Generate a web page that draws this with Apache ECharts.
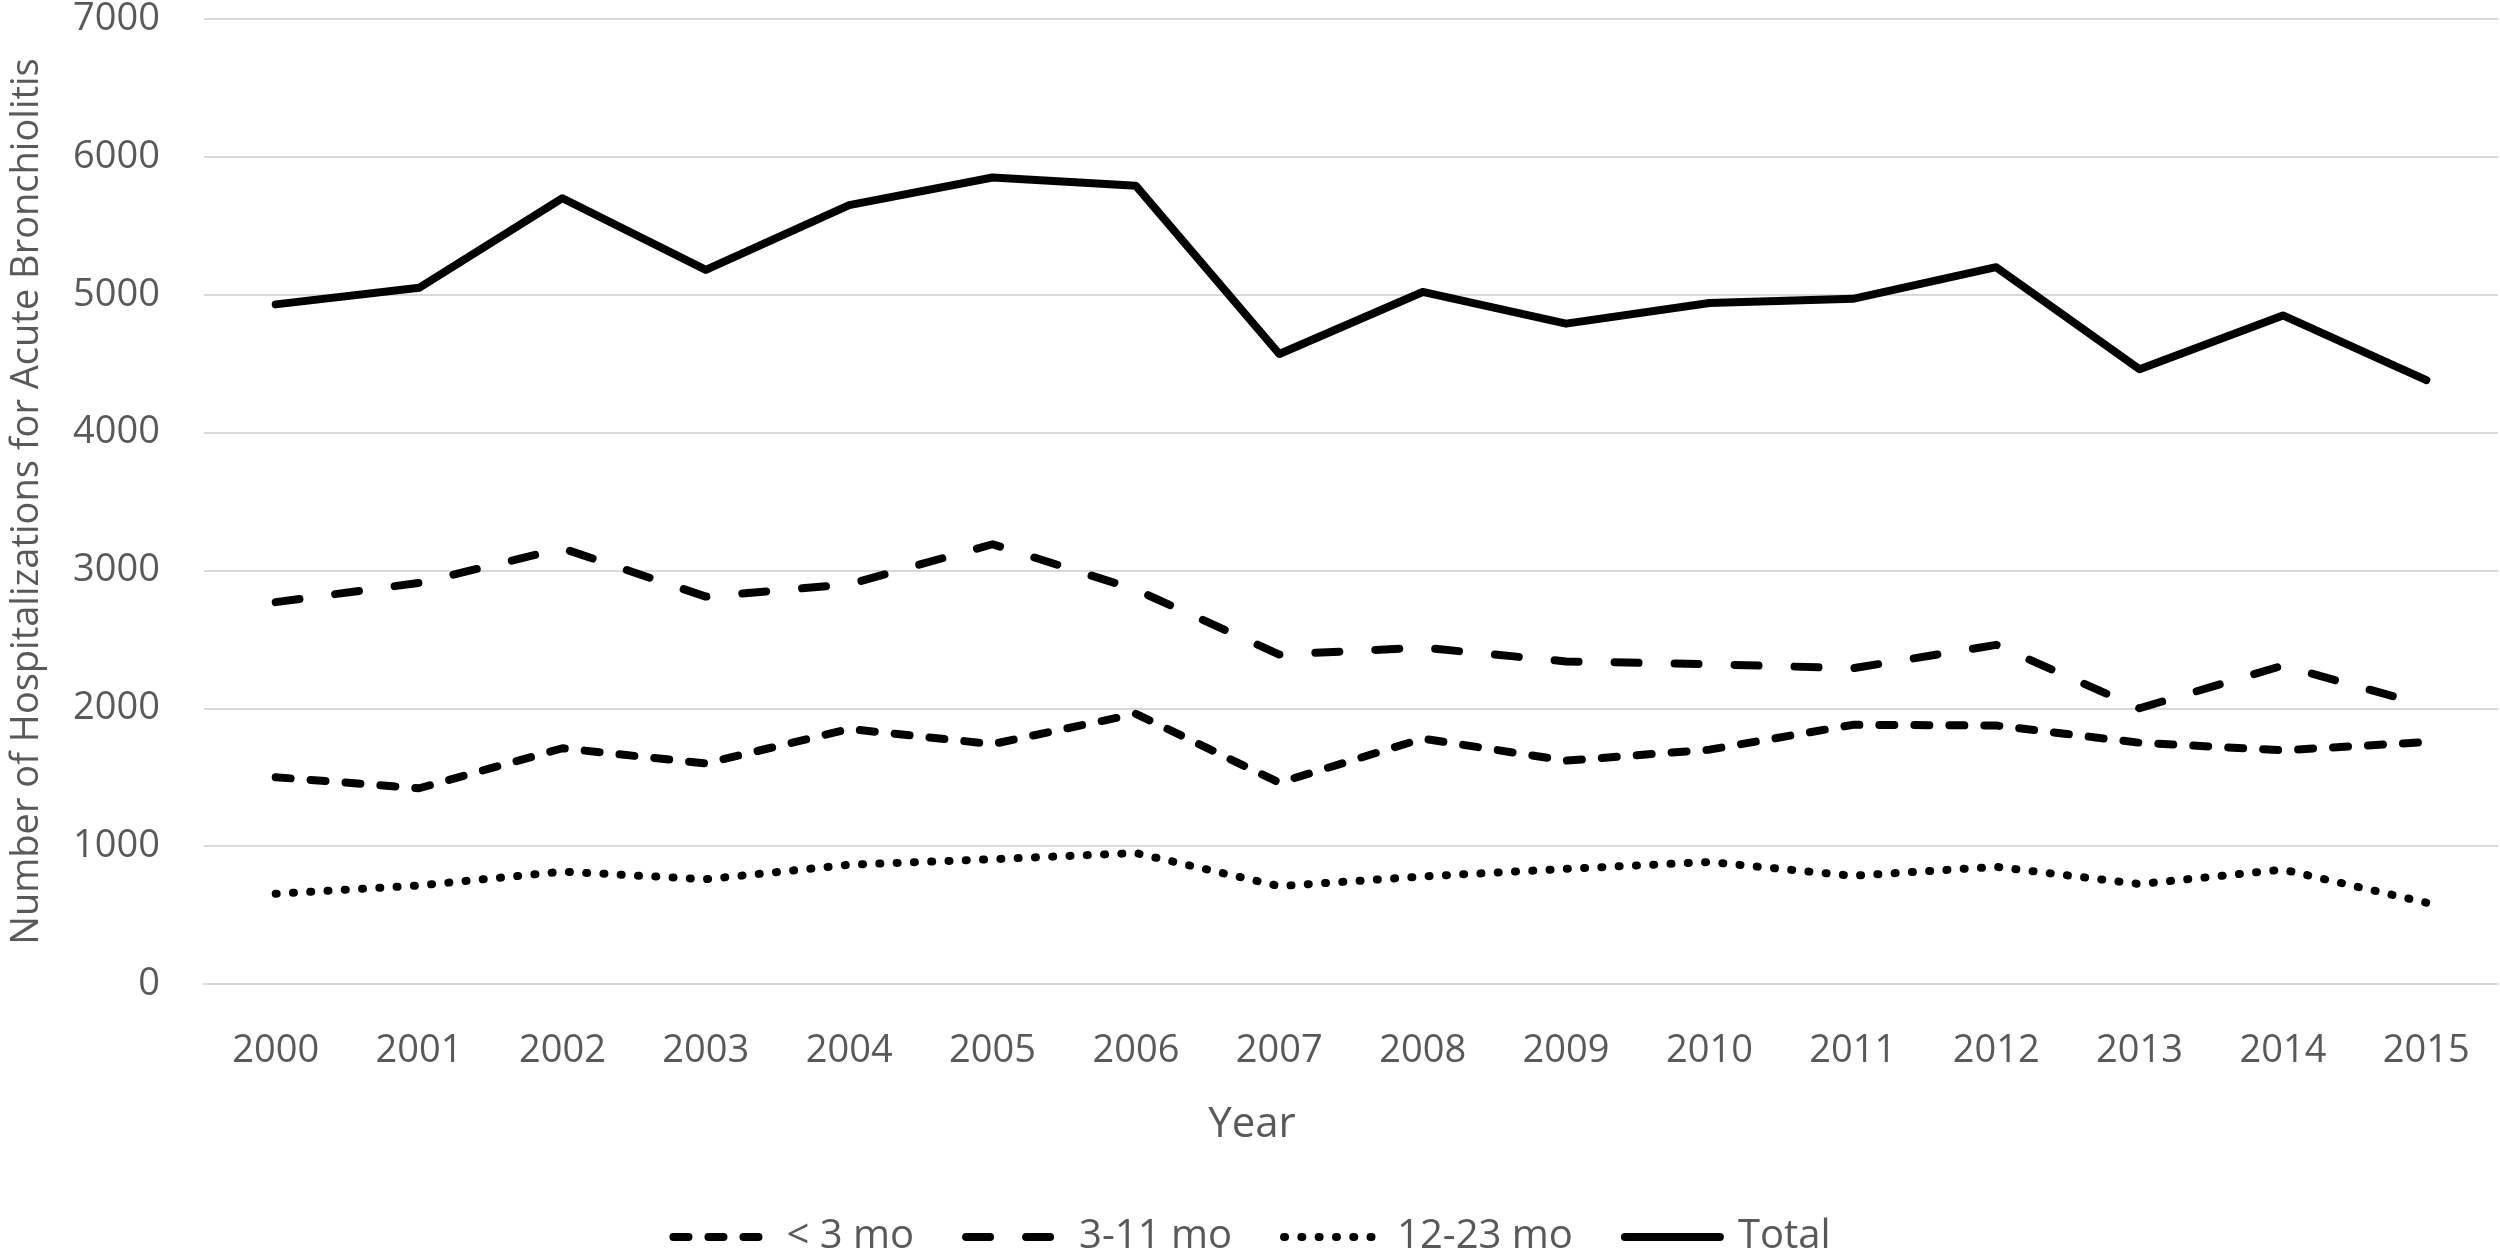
<!DOCTYPE html>
<html>
<head>
<meta charset="utf-8">
<script src="https://cdn.jsdelivr.net/npm/echarts@6/dist/echarts.min.js"></script>
<style>
html,body{margin:0;padding:0;background:#fff;}
#chart{width:2500px;height:1248px;}
</style>
</head>
<body>
<div id="chart"></div>
<script>
var years = ['2000','2001','2002','2003','2004','2005','2006','2007','2008','2009','2010','2011','2012','2013','2014','2015'];
var under3 = [1500,1420,1710,1600,1850,1740,1960,1460,1780,1620,1700,1880,1875,1750,1695,1755];
var m3to11 = [2770,2910,3160,2810,2900,3190,2860,2390,2440,2340,2320,2290,2460,2000,2310,2020];
var m12to23 = [655,715,815,760,865,905,950,710,780,835,885,785,850,725,830,590];
var total = [4930,5050,5700,5180,5650,5850,5790,4570,5020,4790,4940,4970,5200,4460,4850,4380];
var yTicks = {min:0, max:7000, interval:1000};

var FONT = 'Open Sans';
var TXT = '#595959';
var chart = echarts.init(document.getElementById('chart'));

function mk(name, data, dash){
  return {
    name: name, type: 'line', data: data, symbol: 'none', smooth: false,
    lineStyle: {color:'#000', width: 8, type: dash, cap: 'round', join: 'round'},
    itemStyle: {color:'#000'},
    emphasis: {disabled: true}
  };
}

chart.setOption({
  animation: false,
  backgroundColor: '#fff',
  textStyle: {fontFamily: FONT},
  grid: {left: 191, right: 2, top: 18, bottom: 264, containLabel: false},
  legend: {
    data: ['< 3 mo','3-11 mo','12-23 mo','Total'],
    left: 'center', top: 1212, itemWidth: 95, itemHeight: 40, itemGap: 48,
    itemStyle: {opacity: 0},
    lineStyle: {width: 8, cap: 'round'},
    textStyle: {fontFamily: FONT, fontSize: 40, color: TXT, padding: [0,0,0,13]}
  },
  xAxis: {
    type: 'category', data: years, boundaryGap: true,
    axisTick: {show: false},
    axisLine: {lineStyle: {color: '#d9d9d9', width: 2}},
    axisLabel: {fontFamily: FONT, fontSize: 38, color: TXT, margin: 48},
    name: 'Year', nameLocation: 'middle', nameGap: 120,
    nameTextStyle: {fontFamily: FONT, fontSize: 42, color: TXT, padding: [0, 198, 0, 0]}
  },
  yAxis: {
    type: 'value', min: yTicks.min, max: yTicks.max, interval: yTicks.interval,
    axisLine: {show: false}, axisTick: {show: false},
    splitLine: {lineStyle: {color: '#d9d9d9', width: 2}},
    axisLabel: {fontFamily: FONT, fontSize: 38, color: TXT, margin: 44,
      formatter: function(v){ return String(v); }},
    name: 'Number of Hospitalizations for Acute Bronchiolitis',
    nameLocation: 'middle', nameGap: 158,
    nameTextStyle: {fontFamily: FONT, fontSize: 38, color: TXT}
  },
  series: [
    mk('< 3 mo', under3, [15, 20]),
    mk('3-11 mo', m3to11, [24, 36]),
    mk('12-23 mo', m12to23, [1, 16.3]),
    mk('Total', total, 'solid')
  ]
});
</script>
</body>
</html>
